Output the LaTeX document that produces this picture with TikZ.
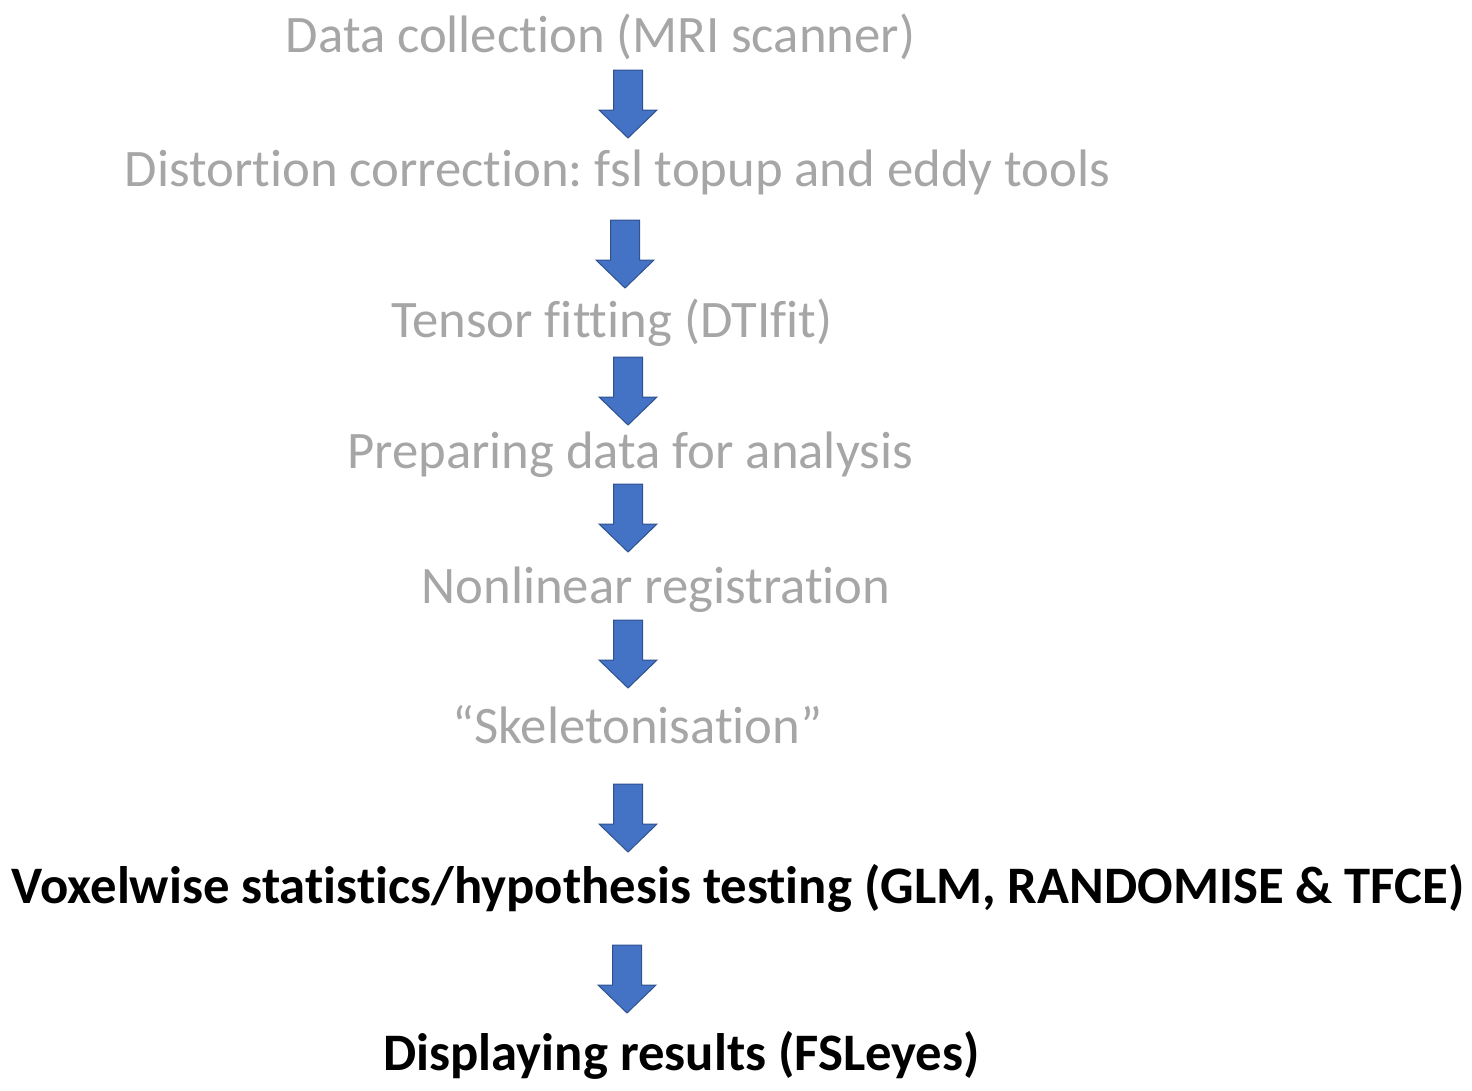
\documentclass[tikz,border=0pt]{standalone}
\usepackage{fontspec}
\setmainfont{Carlito}[Ligatures={NoCommon}]
\frenchspacing
\definecolor{steptext}{RGB}{166,166,166}
\definecolor{arrowfill}{RGB}{68,114,196}
\definecolor{arrowline}{RGB}{47,82,143}
\newcommand{\blockarrowat}[1]{%
  \filldraw[arrowshape] ($(#1)+(-14.5,0)$) -- ($(#1)+(14.5,0)$) -- ($(#1)+(14.5,40)$) -- ($(#1)+(29,40)$) -- ($(#1)+(0,68)$) -- ($(#1)+(-29,40)$) -- ($(#1)+(-14.5,40)$) -- cycle;}
\usetikzlibrary{calc}
\begin{document}
\begin{tikzpicture}[x=1pt,y=-1pt,
  stepnode/.style={anchor=base,inner sep=0pt,text=steptext,font=\fontsize{52.7}{60}\selectfont},
  boldnode/.style={anchor=base,inner sep=0pt,text=black,font=\fontsize{52.7}{60}\selectfont\bfseries},
  arrowshape/.style={fill=arrowfill,draw=arrowline,line width=1pt,line join=miter}]
\useasboundingbox (0,0) rectangle (1472,1090);
\node[stepnode] (s1) at (600.5,52) {Data collection (MRI scanner)};
\node[stepnode] (s2) at (617.5,186) {Distortion correction: fsl topup and eddy tools};
\node[stepnode] (s3) at (612,337) {Tensor fitting (DTIfit)};
\node[stepnode] (s4) at (630,468) {Preparing data for analysis};
\node[stepnode] (s5) at (656,603) {Nonlinear registration};
\node[stepnode] (s6) at (637.5,743) {“Skeletonisation”};
\node[boldnode] (s7) at (738,903) {Voxelwise statistics/hypothesis testing (GLM, RANDOMISE \& TFCE)};
\node[boldnode] (s8) at (681.5,1070) {Displaying results (FSLeyes)};
\coordinate (a1) at (628,70);
\coordinate (a2) at (625,220);
\coordinate (a3) at (628,357);
\coordinate (a4) at (628,484);
\coordinate (a5) at (628,620);
\coordinate (a6) at (628,784);
\coordinate (a7) at (627,945);
\blockarrowat{a1}
\blockarrowat{a2}
\blockarrowat{a3}
\blockarrowat{a4}
\blockarrowat{a5}
\blockarrowat{a6}
\blockarrowat{a7}
\end{tikzpicture}
\end{document}
